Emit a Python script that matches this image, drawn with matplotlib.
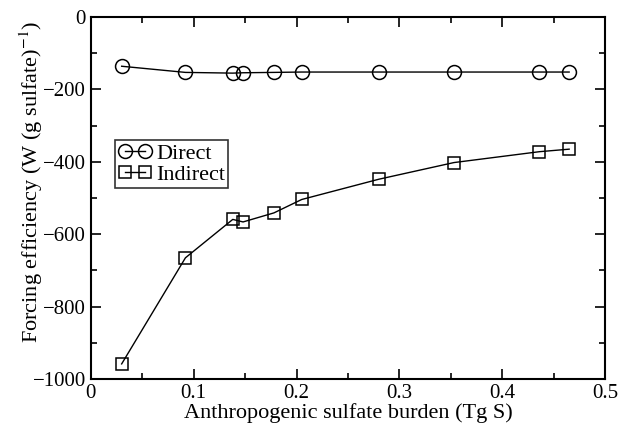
import matplotlib
matplotlib.use("Agg")
import matplotlib.pyplot as plt
from matplotlib.ticker import MultipleLocator

plt.rcParams['font.family'] = ['Liberation Serif', 'DejaVu Serif']
plt.rcParams['mathtext.fontset'] = 'stix'

burden = [0.030, 0.092, 0.138, 0.148, 0.178, 0.205, 0.280, 0.353, 0.436, 0.465]
direct = [-136, -153, -155, -154, -153, -152, -152, -152, -152, -152]
indirect = [-958, -665, -559, -566, -541, -504, -448, -402, -372, -365]

fig = plt.figure(figsize=(6.35, 4.25), dpi=100)
ax = fig.add_axes([0.143, 0.108, 0.81, 0.852])

ax.plot(burden, direct, color='black', lw=1, marker='o', ms=10,
        mfc='none', mec='black', mew=1.1, label='Direct')
ax.plot(burden, indirect, color='black', lw=1, marker='s', ms=9,
        mfc='none', mec='black', mew=1.1, label='Indirect')

ax.set_xlim(0, 0.5)
ax.set_ylim(-1000, 0)
ax.xaxis.set_minor_locator(MultipleLocator(0.05))
ax.yaxis.set_major_locator(MultipleLocator(200))
ax.yaxis.set_minor_locator(MultipleLocator(100))
ax.set_xticks([0, 0.1, 0.2, 0.3, 0.4, 0.5])
ax.set_xticklabels(['0', '0.1', '0.2', '0.3', '0.4', '0.5'])
ax.tick_params(which='both', direction='in', top=True, right=True, labelsize=15, width=1.2)
ax.tick_params(which='major', length=7)
ax.tick_params(which='minor', length=4)
for s in ax.spines.values():
    s.set_linewidth(1.5)

ax.set_xlabel('Anthropogenic sulfate burden (Tg S)', fontsize=16, labelpad=0)
ax.set_ylabel('Forcing efficiency (W (g sulfate)$^{-1}$)', fontsize=16)
ax.yaxis.set_label_coords(-0.09, 0.545)

leg = ax.legend(loc='upper left', bbox_to_anchor=(0.047, 0.66), numpoints=2,
                fontsize=16, frameon=True, fancybox=False, edgecolor='black',
                handlelength=1.5, handletextpad=0.2, borderpad=0.15,
                labelspacing=0.0, borderaxespad=0)
leg.get_frame().set_linewidth(1.2)

fig.savefig('out.png', dpi=100)
